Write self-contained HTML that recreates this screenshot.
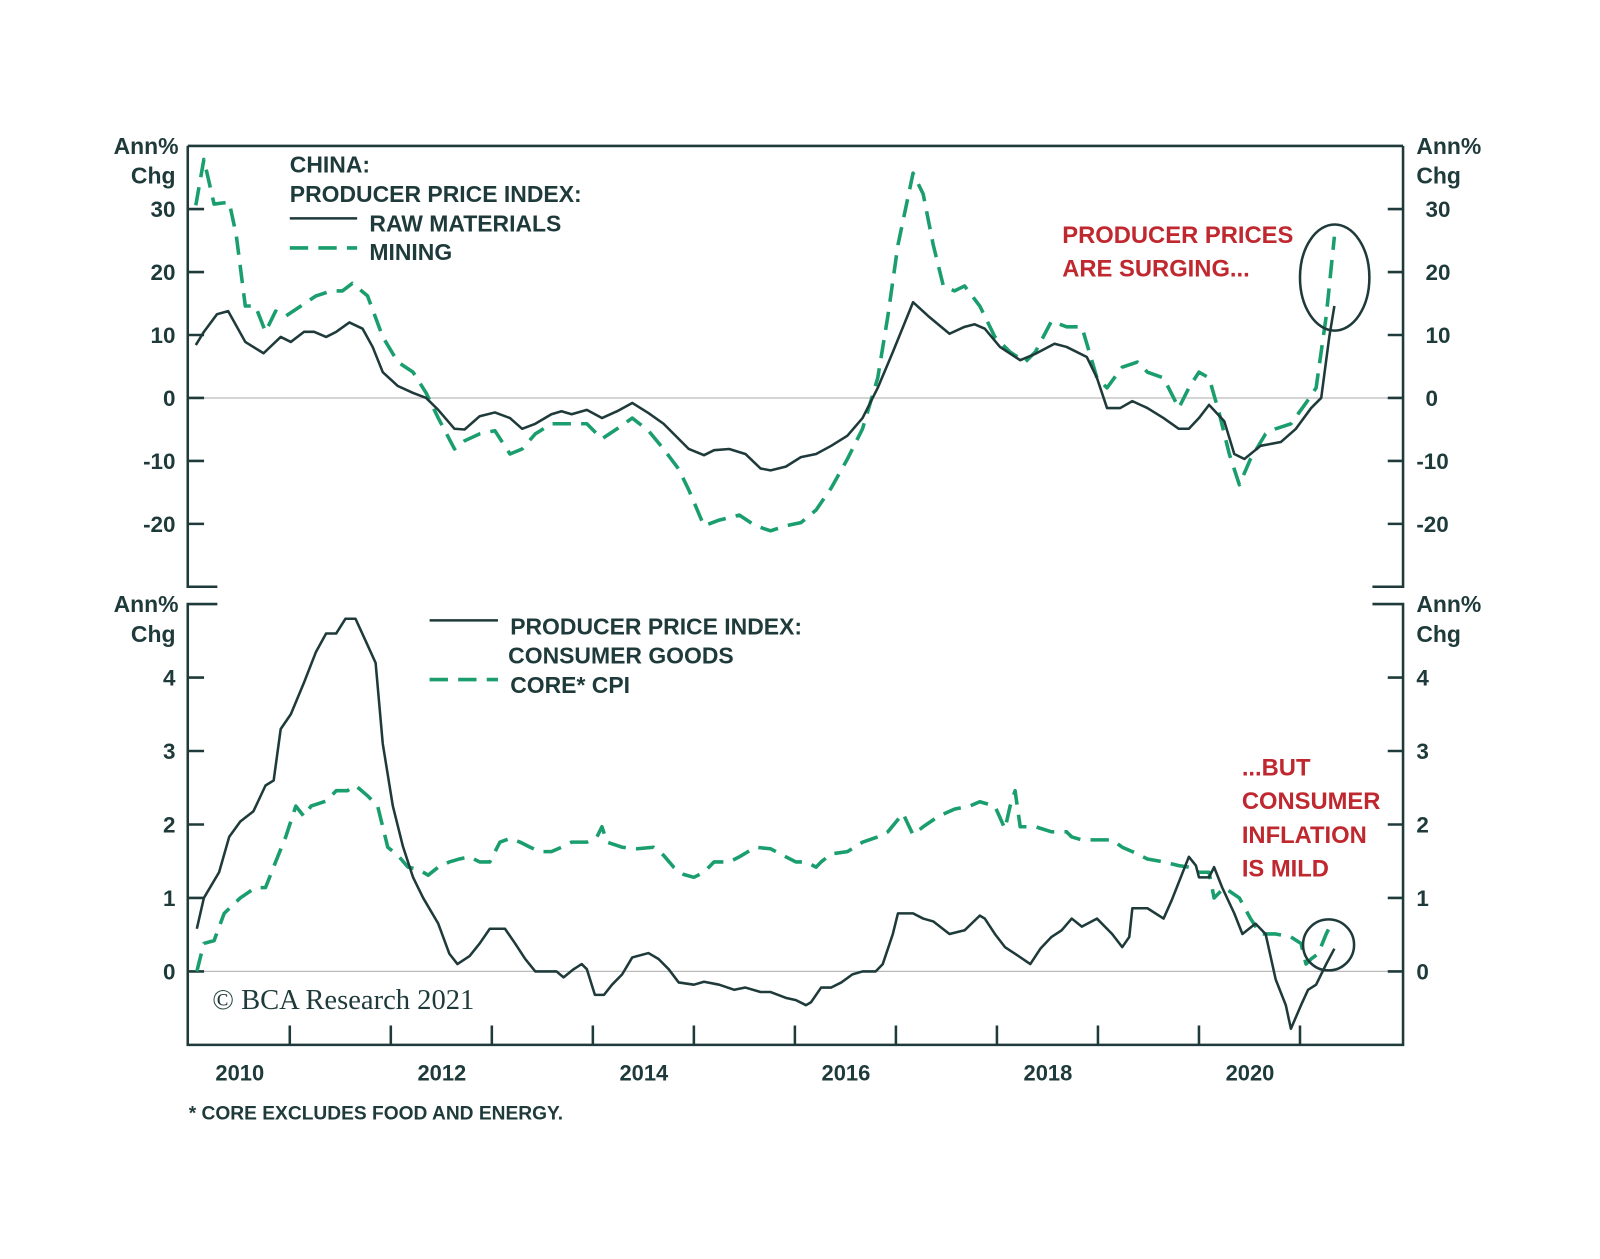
<!DOCTYPE html>
<html><head><meta charset="utf-8"><style>
body{margin:0;background:#fff}
svg text{font-family:"Liberation Sans",Arial,sans-serif;font-weight:bold}
</style></head><body>
<svg id="chart" width="1600" height="1254" viewBox="0 0 1600 1254" xmlns="http://www.w3.org/2000/svg">
<rect width="1600" height="1254" fill="#fff"/>
<g transform="scale(1.0204)">
<g id="frame" stroke="#1f3a3a" stroke-width="2.5" fill="none">
<path d="M184,143 H1375 M184,143 V575 H213 M1375,143 V575 H1345"/>
<path d="M213,592 H184 V1024 H1375 V592 H1345"/>
</g>
<g id="top-g"></g>
<g id="bot-g"></g>
<g fill="#1f3a3a" font-size="22.5">
<text x="175" y="151" text-anchor="end">Ann%</text>
<text x="172" y="180" text-anchor="end">Chg</text>
<text x="1388" y="151">Ann%</text>
<text x="1388" y="180">Chg</text>
<text x="175" y="600" text-anchor="end">Ann%</text>
<text x="172" y="629" text-anchor="end">Chg</text>
<text x="1388" y="600">Ann%</text>
<text x="1388" y="629">Chg</text>
<text x="284" y="169">CHINA:</text>
<text x="284" y="198">PRODUCER PRICE INDEX:</text>
<text x="362" y="227">RAW MATERIALS</text>
<text x="362" y="255">MINING</text>
<text x="500" y="622">PRODUCER PRICE INDEX:</text>
<text x="498" y="650">CONSUMER GOODS</text>
<text x="500" y="679">CORE* CPI</text>
<text x="185" y="1097" font-size="18.8">* CORE EXCLUDES FOOD AND ENERGY.</text>
</g>
<g stroke-width="2.5">
<line x1="284" y1="214" x2="350" y2="214" stroke="#1f3a3a"/>
<line x1="284" y1="243" x2="350" y2="243" stroke="#1a9e6e" stroke-width="3.5" stroke-dasharray="18 10"/>
<line x1="421" y1="608" x2="488" y2="608" stroke="#1f3a3a"/>
<line x1="421" y1="666" x2="488" y2="666" stroke="#1a9e6e" stroke-width="3.5" stroke-dasharray="18 10"/>
</g>
<g fill="#c0282f" font-size="23.3">
<text x="1041" y="238">PRODUCER PRICES</text>
<text x="1041" y="271">ARE SURGING...</text>
<text x="1217" y="760">...BUT</text>
<text x="1217" y="793">CONSUMER</text>
<text x="1217" y="826">INFLATION</text>
<text x="1217" y="859">IS MILD</text>
</g>
<ellipse cx="1308" cy="272" rx="34" ry="52" fill="none" stroke="#1f3a3a" stroke-width="2.5"/>
<circle cx="1302" cy="926" r="25" fill="none" stroke="#1f3a3a" stroke-width="2.5"/>
<text x="208" y="989" fill="#1f3a3a" font-size="28" style="font-family:'Liberation Serif',serif;font-weight:normal">© BCA Research 2021</text>
</g>
</svg>
<script>
const xYears = [2010,2012,2014,2016,2018,2020];
const topTicks = [30,20,10,0,-10,-20];
const botTicks = [4,3,2,1,0];
const rawT = [.07,.15,.28,.39,.56,.74,.91,1.01,1.14,1.24,1.36,1.46,1.59,1.72,1.82,1.92,2.07,2.22,2.35,2.47,2.63,2.73,2.88,3.03,3.18,3.30,3.43,3.59,3.69,3.79,3.94,4.09,4.24,4.39,4.55,4.70,4.85,4.95,5.10,5.20,5.35,5.51,5.66,5.76,5.91,6.06,6.21,6.36,6.52,6.67,6.82,6.97,7.17,7.32,7.53,7.68,7.78,7.88,8.03,8.23,8.38,8.57,8.69,8.89,8.99,9.09,9.22,9.34,9.49,9.65,9.80,9.90,10.0,10.10,10.25,10.35,10.45,10.61,10.81,10.96,11.11,11.21,11.29,11.34];
const rawV = [8.4,10.5,13.3,13.8,8.9,7.1,9.7,8.9,10.5,10.5,9.7,10.5,12.0,11.0,8.1,4.1,1.9,0.8,0,-1.9,-4.9,-5.0,-2.9,-2.3,-3.2,-4.9,-4.1,-2.6,-2.1,-2.6,-1.9,-3.2,-2.1,-0.8,-2.4,-4.1,-6.5,-8.1,-9.1,-8.3,-8.1,-8.9,-11.2,-11.5,-10.9,-9.4,-8.9,-7.6,-6.0,-3.2,1.6,7.3,15.2,13.0,10.2,11.3,11.7,11.0,8.1,6.0,7.0,8.6,8.1,6.5,3.2,-1.6,-1.6,-0.5,-1.6,-3.2,-4.9,-4.9,-3.2,-1.1,-3.7,-8.9,-9.7,-7.6,-7.0,-4.9,-1.6,0,9.7,14.6];
const minT = [.07,.15,.25,.40,.47,.56,.66,.76,.86,.96,1.11,1.26,1.41,1.52,1.62,1.77,1.92,2.07,2.22,2.35,2.47,2.63,2.73,2.88,3.03,3.18,3.30,3.43,3.59,3.74,3.94,4.09,4.24,4.39,4.55,4.70,4.85,4.95,5.10,5.25,5.45,5.61,5.76,5.91,6.06,6.21,6.36,6.52,6.67,6.82,6.92,7.02,7.17,7.27,7.37,7.47,7.58,7.68,7.83,7.98,8.13,8.28,8.38,8.54,8.69,8.84,8.99,9.09,9.24,9.39,9.49,9.65,9.80,9.90,10.0,10.10,10.20,10.30,10.40,10.51,10.66,10.76,10.91,11.06,11.16,11.26,11.34];
const minV = [30.6,37.9,30.8,31.1,25.9,14.6,14.6,10.5,13.8,13.0,14.6,16.2,17.0,17.0,18.2,16.2,9.7,5.7,4.1,0.8,-3.2,-8.1,-6.8,-5.7,-5.2,-8.9,-8.1,-5.7,-4.1,-4.1,-4.1,-6.5,-4.9,-3.2,-5.2,-8.1,-11.3,-14.6,-20.3,-19.4,-18.6,-20.3,-21.1,-20.3,-19.8,-17.8,-14.3,-9.7,-4.9,3.2,13.0,24.3,35.7,32.4,24.3,17.8,17.0,17.8,14.6,9.7,7.3,5.7,7.3,12.2,11.3,11.3,3.2,1.6,4.9,5.7,4.1,3.2,-1.6,1.6,4.1,3.2,-2.4,-8.9,-13.8,-9.7,-5.7,-4.9,-4.1,-0.8,1.6,13.0,25.6];
const ppiT = [.08,.15,.30,.40,.51,.64,.76,.84,.91,1.01,1.14,1.26,1.36,1.46,1.55,1.65,1.75,1.85,1.92,2.02,2.12,2.22,2.32,2.47,2.58,2.66,2.78,2.88,2.98,3.13,3.23,3.33,3.43,3.64,3.71,3.81,3.89,3.94,4.02,4.11,4.19,4.29,4.39,4.55,4.65,4.75,4.85,5.0,5.10,5.25,5.40,5.51,5.66,5.76,5.91,6.01,6.11,6.16,6.26,6.36,6.46,6.57,6.67,6.80,6.87,6.97,7.02,7.17,7.27,7.37,7.53,7.68,7.83,7.88,7.98,8.08,8.18,8.33,8.43,8.54,8.64,8.74,8.84,8.99,9.14,9.24,9.31,9.34,9.49,9.65,9.73,9.90,9.97,10.0,10.10,10.15,10.23,10.35,10.43,10.56,10.66,10.76,10.86,10.91,11.01,11.08,11.16,11.26,11.34];
const ppiV = [.58,1.0,1.35,1.83,2.04,2.18,2.53,2.6,3.3,3.5,3.93,4.35,4.6,4.6,4.8,4.8,4.5,4.2,3.1,2.25,1.7,1.28,1.0,.65,.24,.1,.21,.38,.58,.58,.38,.17,0,0,-.08,.03,.1,.03,-.32,-.32,-.18,-.04,.19,.25,.17,.03,-.15,-.18,-.14,-.18,-.25,-.22,-.28,-.28,-.36,-.39,-.46,-.42,-.22,-.22,-.15,-.04,0,0,.1,.51,.79,.79,.72,.68,.51,.56,.76,.72,.51,.33,.24,.1,.31,.47,.56,.72,.61,.72,.51,.33,.47,.86,.86,.72,.97,1.56,1.44,1.28,1.28,1.42,1.14,.79,.51,.65,.51,-.11,-.46,-.78,-.46,-.25,-.18,.1,.31];
const cpiT = [.08,.15,.25,.35,.51,.66,.76,.86,.96,1.06,1.14,1.21,1.36,1.46,1.57,1.65,1.77,1.87,1.97,2.07,2.17,2.27,2.37,2.47,2.58,2.68,2.78,2.88,2.98,3.08,3.18,3.28,3.38,3.48,3.59,3.69,3.79,3.94,4.04,4.09,4.14,4.29,4.44,4.60,4.70,4.80,4.90,5.0,5.10,5.20,5.35,5.45,5.61,5.76,5.91,6.01,6.11,6.21,6.26,6.36,6.52,6.67,6.82,6.92,7.07,7.17,7.27,7.42,7.58,7.73,7.83,7.98,8.08,8.13,8.18,8.23,8.38,8.54,8.69,8.74,8.84,9.04,9.14,9.24,9.34,9.49,9.65,9.80,9.90,10.0,10.10,10.15,10.25,10.40,10.51,10.61,10.76,10.91,11.01,11.06,11.11,11.18,11.26,11.31];
const cpiV = [0,.38,.42,.79,1.0,1.14,1.14,1.49,1.83,2.25,2.11,2.25,2.32,2.46,2.46,2.53,2.39,2.25,1.69,1.58,1.42,1.39,1.31,1.42,1.49,1.53,1.56,1.49,1.49,1.76,1.81,1.76,1.69,1.63,1.63,1.69,1.76,1.76,1.83,1.97,1.76,1.69,1.67,1.69,1.58,1.42,1.32,1.28,1.35,1.49,1.49,1.56,1.69,1.67,1.56,1.49,1.49,1.42,1.49,1.6,1.63,1.76,1.83,1.9,2.15,1.86,1.97,2.11,2.21,2.25,2.31,2.25,1.94,2.25,2.46,1.97,1.97,1.9,1.9,1.83,1.79,1.79,1.79,1.69,1.63,1.53,1.49,1.44,1.42,1.35,1.35,1.0,1.14,1.0,.72,.51,.51,.47,.38,.1,.17,.24,.51,.65];

const NS='http://www.w3.org/2000/svg';
const xOf = t => 185 + t * 99;           // t = years since 2010
const xYear = y => 185 + (y - 2010) * 99;
const yTop = v => 390 - v * 6.17;
const yBot = v => 952 - v * 72;
function mk(tag, attrs, parent){const e=document.createElementNS(NS,tag);for(const k in attrs)e.setAttribute(k,attrs[k]);parent.appendChild(e);return e;}
const topG=document.getElementById('top-g'), botG=document.getElementById('bot-g');

let z=mk('line',{x1:185,x2:1374,y1:yTop(0),y2:yTop(0),stroke:'#bbb','stroke-width':1.2},topG);


z=mk('line',{x1:185,x2:1374,y1:yBot(0),y2:yBot(0),stroke:'#bbb','stroke-width':1.2},botG);



topTicks.forEach(v=>{
  const y=yTop(v);
  const g=mk('g',{},topG);
  
  
  mk('path',{d:`M184,${y}H200M1360,${y}H1375`,stroke:'#1f3a3a','stroke-width':2.5},g);
  const a=mk('text',{x:172,y:y+8,'text-anchor':'end',fill:'#1f3a3a','font-size':22},g);a.textContent=v;
  const b=mk('text',{x:v<0?1388:1397,y:y+8,fill:'#1f3a3a','font-size':22},g);b.textContent=v;
});
botTicks.forEach(v=>{
  const y=yBot(v);
  const g=mk('g',{},botG);
  
  
  mk('path',{d:`M184,${y}H200M1360,${y}H1375`,stroke:'#1f3a3a','stroke-width':2.5},g);
  const a=mk('text',{x:172,y:y+8,'text-anchor':'end',fill:'#1f3a3a','font-size':22},g);a.textContent=v;
  const b=mk('text',{x:1388,y:y+8,fill:'#1f3a3a','font-size':22},g);b.textContent=v;
});
for(let yr=2011;yr<=2021;yr++){
  const t=mk('line',{x1:xYear(yr),x2:xYear(yr),y1:1024,y2:1005,stroke:'#1f3a3a','stroke-width':2.5},botG);
  
  
}
xYears.forEach(yr=>{
  const t=mk('text',{x:xYear(yr)+50,y:1059,'text-anchor':'middle',fill:'#1f3a3a','font-size':21.5},botG);
  
  
  t.textContent=yr;
});
function line(T,V,yf,parent,name,dashed){
  const d=T.map((t,i)=>(i?'L':'M')+xOf(t).toFixed(1)+','+yf(V[i]).toFixed(1)).join('');
  const p=mk('path',{d,fill:'none',stroke:dashed?'#1a9e6e':'#1f3a3a','stroke-width':dashed?3.5:2.5,'stroke-linejoin':'round'},parent);
  if(dashed)p.setAttribute('stroke-dasharray','18 10');
  
  
}
line(minT,minV,yTop,topG,'mining-line',true);
line(rawT,rawV,yTop,topG,'raw-materials-line',false);
line(cpiT,cpiV,yBot,botG,'core-cpi-line',true);
line(ppiT,ppiV,yBot,botG,'ppi-consumer-goods-line',false);
</script>
</body></html>
